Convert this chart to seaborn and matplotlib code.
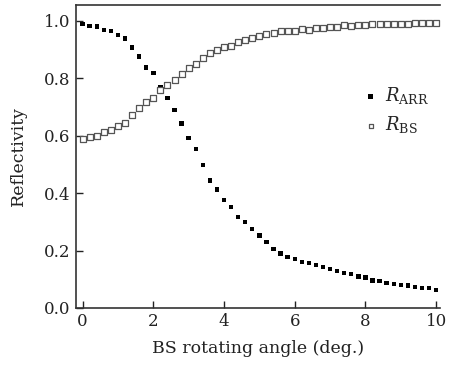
import numpy as np
import pandas as pd
import matplotlib
matplotlib.use("Agg")
import matplotlib.pyplot as plt
import seaborn as sns

# BS rotating angle, 0 to 10 deg in 0.2 deg steps
angle = [round(0.2 * i, 1) for i in range(51)]

r_arr = [0.990, 0.983, 0.981, 0.969, 0.964, 0.951, 0.938, 0.907, 0.876, 0.837,
         0.818, 0.769, 0.732, 0.690, 0.643, 0.593, 0.553, 0.499, 0.444, 0.412,
         0.375, 0.351, 0.317, 0.300, 0.276, 0.252, 0.229, 0.206, 0.190, 0.177,
         0.170, 0.161, 0.157, 0.149, 0.143, 0.135, 0.129, 0.122, 0.118, 0.109,
         0.106, 0.095, 0.093, 0.087, 0.084, 0.079, 0.078, 0.073, 0.070, 0.069,
         0.063]

r_bs = [0.590, 0.597, 0.599, 0.614, 0.620, 0.634, 0.646, 0.671, 0.696, 0.718,
        0.732, 0.760, 0.775, 0.794, 0.814, 0.835, 0.849, 0.869, 0.887, 0.899,
        0.909, 0.913, 0.927, 0.934, 0.940, 0.948, 0.954, 0.958, 0.966, 0.964,
        0.964, 0.971, 0.970, 0.975, 0.975, 0.979, 0.979, 0.984, 0.983, 0.985,
        0.986, 0.988, 0.988, 0.990, 0.989, 0.990, 0.990, 0.991, 0.992, 0.993,
        0.994]

xticks = [0, 2, 4, 6, 8, 10]
yticks = [0.0, 0.2, 0.4, 0.6, 0.8, 1.0]

df = pd.DataFrame({"angle": angle, "R_ARR": r_arr, "R_BS": r_bs})

sns.set_style("ticks")
plt.rcParams["font.family"] = ["DejaVu Serif"]
plt.rcParams["mathtext.fontset"] = "dejavuserif"

fig = plt.figure(figsize=(4.49, 3.71), dpi=100)
ax = fig.add_axes([0.169, 0.170, 0.811, 0.817])

sns.scatterplot(data=df, x="angle", y="R_ARR", marker="s", s=10, color="black",
                edgecolor="none", label=r"$R_{\mathrm{ARR}}$", ax=ax, zorder=3)
sns.scatterplot(data=df, x="angle", y="R_BS", marker="s", s=17, facecolor="white",
                edgecolor="#555555", linewidth=0.9, label=r"$R_{\mathrm{BS}}$", ax=ax, zorder=4)

ax.set_xlim(-0.19, 10.11)
ax.set_ylim(0.0, 1.056)
ax.set_xticks(xticks)
ax.set_xticklabels([str(t) for t in xticks])
ax.set_yticks(yticks)
ax.set_yticklabels([f"{t:.1f}" for t in yticks])
ax.tick_params(direction="in", length=5, width=1, labelsize=12, colors="#222222",
               pad=4)
ax.set_xlabel("BS rotating angle (deg.)", fontsize=12.5, color="#222222", labelpad=7)
ax.set_ylabel("Reflectivity", fontsize=12.5, color="#222222", labelpad=12)

for side in ["left", "bottom", "top"]:
    ax.spines[side].set_color("#333333")
    ax.spines[side].set_linewidth(1.2)
ax.spines["right"].set_visible(False)

leg = ax.legend(loc="upper left", bbox_to_anchor=(0.765, 0.77), frameon=False,
                fontsize=13, handlelength=0.6, handletextpad=0.5, labelspacing=0.45,
                borderpad=0.1)
for h in leg.legend_handles:
    h.set_sizes([12])

fig.savefig("out.png", dpi=100)
